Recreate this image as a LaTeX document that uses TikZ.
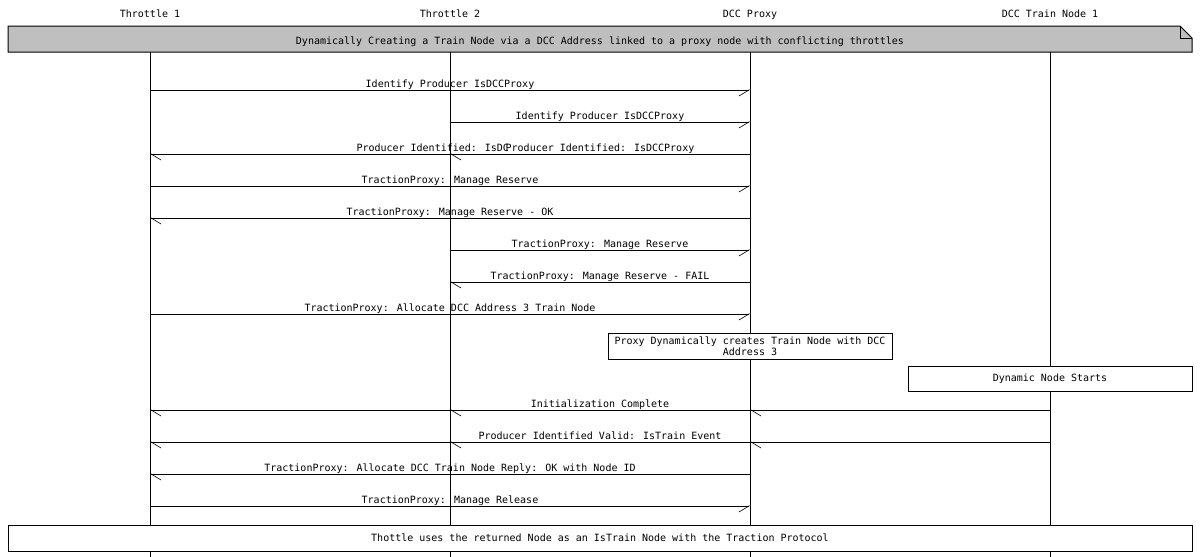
\documentclass[tikz,border=0pt]{standalone}
\usepackage{fontspec}
\setmainfont{DejaVu Sans Mono}
\usetikzlibrary{arrows.meta}
\tikzset{
  every node/.style={font=\fontsize{7.5}{8.25}\selectfont},
  lifeline/.style={line width=0.75pt},
  msg/.style={line width=0.75pt},
  rmsg/.style={msg,-{Straight Barb[harpoon,swap,length=7.5pt,width=9pt,line width=0.45pt]}},
  lmsg/.style={msg,-{Straight Barb[harpoon,length=7.5pt,width=9pt,line width=0.45pt]}},
  lbl/.style={anchor=base,yshift=1.8pt,inner sep=0pt,text depth=1.2pt},
  head/.style={anchor=base,inner sep=0pt},
  actbox/.style={draw,line width=0.75pt,fill=white,inner sep=0pt,align=center},
}
\begin{document}
\begin{tikzpicture}[x=0.75pt,y=-0.75pt]
\useasboundingbox (0,0) rectangle (1200,557);
% headers
\node[head] (h1) at (150,17) {Throttle 1};
\node[head] (h2) at (450,17) {Throttle 2};
\node[head] (h3) at (750,17) {DCC Proxy};
\node[head] (h4) at (1050,17) {DCC Train Node 1};
% row coordinates
\coordinate (top) at (0,52);
\coordinate (bot) at (0,557);
\foreach \n/\y in {r1/90,r2/122,r3/154,r4/186,r5/218,r6/250,r7/282,r8/314,r9/410,r10/442,r11/474,r12/506}
  {\coordinate (\n) at (0,\y);}
% lifelines
\foreach \h in {h1,h2,h3,h4} {\draw[lifeline] (\h |- top) -- (\h |- bot);}
% title note
\path[draw,line width=0.75pt,fill=black!25] (8,26) -- (1180,26) -- (1192,38) -- (1192,52) -- (8,52) -- cycle;
\draw[line width=0.75pt] (1180,26) -- (1180,38) -- (1192,38);
\node[head] (note) at (600,44) {Dynamically Creating a Train Node via a DCC Address linked to a proxy node with conflicting throttles};
% messages
\draw[rmsg] (h1 |- r1) -- node[lbl] {Identify Producer IsDCCProxy} (h3 |- r1);
\draw[rmsg] (h2 |- r2) -- node[lbl] {Identify Producer IsDCCProxy} (h3 |- r2);
\draw[lmsg] (h3 |- r3) -- node[lbl,anchor=base west,xshift=-70.5pt] {Producer Identified: IsDC} (h1 |- r3);
\draw[lmsg] (h3 |- r3) -- node[lbl] {Producer Identified: IsDCCProxy} (h2 |- r3);
\draw[rmsg] (h1 |- r4) -- node[lbl] {TractionProxy: Manage Reserve} (h3 |- r4);
\draw[lmsg] (h3 |- r5) -- node[lbl] {TractionProxy: Manage Reserve - OK} (h1 |- r5);
\draw[rmsg] (h2 |- r6) -- node[lbl] {TractionProxy: Manage Reserve} (h3 |- r6);
\draw[lmsg] (h3 |- r7) -- node[lbl] {TractionProxy: Manage Reserve - FAIL} (h2 |- r7);
\draw[rmsg] (h1 |- r8) -- node[lbl] {TractionProxy: Allocate DCC Address 3 Train Node} (h3 |- r8);
% boxes
\node[actbox,minimum width=213pt,minimum height=19.5pt] (b1) at (750,346) {Proxy Dynamically creates Train Node with DCC\\Address 3};
\node[actbox,minimum width=213pt,minimum height=18.75pt] (b2) at (1050,378.5) {Dynamic Node Starts};
% broadcast messages
\draw[lmsg] (h4 |- r9) -- (h3 |- r9);
\draw[lmsg] (h4 |- r9) -- (h2 |- r9);
\draw[lmsg] (h4 |- r9) -- node[lbl] {Initialization Complete} (h1 |- r9);
\draw[lmsg] (h4 |- r10) -- (h3 |- r10);
\draw[lmsg] (h4 |- r10) -- (h2 |- r10);
\draw[lmsg] (h4 |- r10) -- node[lbl] {Producer Identified Valid: IsTrain Event} (h1 |- r10);
\draw[lmsg] (h3 |- r11) -- node[lbl] {TractionProxy: Allocate DCC Train Node Reply: OK with Node ID} (h1 |- r11);
\draw[rmsg] (h1 |- r12) -- node[lbl] {TractionProxy: Manage Release} (h3 |- r12);
% final note
\node[actbox,minimum width=888pt,minimum height=19.5pt] (b3) at (600,538) {Thottle uses the returned Node as an IsTrain Node with the Traction Protocol};
\end{tikzpicture}
\end{document}
